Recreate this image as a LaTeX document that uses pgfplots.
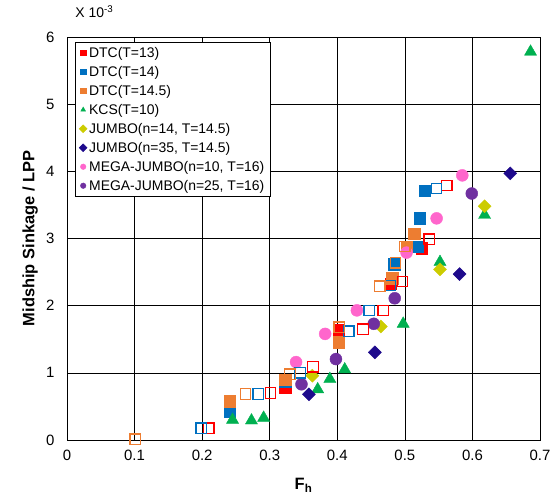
\documentclass[border=0pt]{standalone}
\usepackage{fontspec}
\setmainfont{Liberation Sans}
\usepackage{pgfplots}
\pgfplotsset{compat=1.18}
\definecolor{cRed}{RGB}{255,0,0}
\definecolor{cBlue}{RGB}{0,112,192}
\definecolor{cOrange}{RGB}{237,125,49}
\definecolor{cGreen}{RGB}{0,176,80}
\definecolor{cYellow}{RGB}{204,204,0}
\definecolor{cNavy}{RGB}{30,10,140}
\definecolor{cPink}{RGB}{255,102,204}
\definecolor{cPurple}{RGB}{112,48,160}
\begin{document}
\begin{tikzpicture}
\begin{axis}[
  width=473bp, height=403bp, scale only axis,
  xmin=0, xmax=0.7, ymin=0, ymax=6,
  xtick={0,0.1,0.2,0.3,0.4,0.5,0.6,0.7},
  xticklabels={0,0.1,0.2,0.3,0.4,0.5,0.6,0.7},
  ytick={0,1,2,3,4,5,6},
  yticklabels={0,1,2,3,4,5,6},
  grid=major,
  major grid style={black, line width=0.6bp},
  axis line style={black, line width=0.9bp},
  major tick length=0pt,
  /pgf/number format/assume math mode=true,
  tick label style={font=\fontsize{15}{18}\selectfont},
  xticklabel style={yshift=-7bp},
  yticklabel style={xshift=-9bp},
  xlabel={\textbf{F\textsubscript{h}}},
  ylabel={\textbf{Midship Sinkage / LPP}},
  every axis x label/.style={at={(axis description cs:0.5,-0.112)}, anchor=center, font=\fontsize{16.5}{19}\selectfont},
  every axis y label/.style={at={(axis description cs:-0.078,0.5)}, anchor=center, rotate=90, font=\fontsize{16.5}{19}\selectfont},
  clip=false,
  legend style={at={(axis description cs:0.017,0.988)}, anchor=north west,
    draw=black, fill=white, font=\fontsize{14}{16}\selectfont,
    cells={anchor=west}, row sep=3.4bp, inner xsep=4bp, inner ysep=3bp},
  legend image code/.code={\draw[#1, mark size=2.8bp] plot coordinates {(0.12cm,0cm)};},
  sq/.style={only marks, mark=square*, mark size=5.8bp},
  osq/.style={only marks, mark=square, mark size=5.2bp, line width=1.3bp, forget plot},
]
\addplot[sq, color=cRed] coordinates {(0.3225,0.78) (0.402,1.64) (0.479,2.33) (0.525,2.86)};
\addlegendentry{DTC(T=13)}
\addplot[sq, color=cBlue] coordinates {(0.241,0.42) (0.3225,0.875) (0.484,2.62) (0.518,2.88) (0.522,3.30) (0.5296,3.71)};
\addlegendentry{DTC(T=14)}
\addplot[sq, color=cOrange] coordinates {(0.241,0.58) (0.3225,0.90) (0.402,1.46) (0.481,2.41) (0.5025,2.88) (0.514,3.07)};
\addlegendentry{DTC(T=14.5)}
\addplot[only marks, mark=triangle*, mark size=7bp, color=cGreen] coordinates {(0.245,0.30) (0.273,0.29) (0.291,0.33) (0.371,0.754) (0.389,0.908) (0.411,1.05) (0.4975,1.73) (0.552,2.65) (0.618,3.35) (0.686,5.78)};
\addlegendentry{KCS(T=10)}
\addplot[only marks, mark=square*, mark size=4.6bp, mark options={rotate=45}, color=cYellow] coordinates {(0.363,0.957) (0.4645,1.69) (0.552,2.54) (0.618,3.48)};
\addlegendentry{JUMBO(n=14, T=14.5)}
\addplot[only marks, mark=square*, mark size=4.6bp, mark options={rotate=45}, color=cNavy] coordinates {(0.358,0.68) (0.4556,1.305) (0.581,2.47) (0.656,3.97)};
\addlegendentry{JUMBO(n=35, T=14.5)}
\addplot[only marks, mark=*, mark size=6bp, color=cPink] coordinates {(0.339,1.16) (0.382,1.58) (0.429,1.93) (0.5025,2.79) (0.547,3.30) (0.585,3.94)};
\addlegendentry{MEGA-JUMBO(n=10, T=16)}
\addplot[only marks, mark=*, mark size=6bp, color=cPurple] coordinates {(0.347,0.83) (0.398,1.205) (0.454,1.73) (0.485,2.11) (0.599,3.67)};
\addlegendentry{MEGA-JUMBO(n=25, T=16)}
\addplot[osq, color=cRed] coordinates {(0.210,0.174) (0.301,0.70) (0.364,1.09) (0.438,1.65) (0.468,1.93) (0.4966,2.36) (0.536,2.99) (0.562,3.79)};
\addplot[osq, color=cBlue] coordinates {(0.1987,0.174) (0.283,0.685) (0.345,1.0) (0.417,1.62) (0.447,1.93) (0.478,2.30) (0.547,3.745)};
\addplot[osq, color=cOrange] coordinates {(0.101,0.01) (0.264,0.685) (0.33,0.98) (0.403,1.68) (0.463,2.29) (0.486,2.64) (0.50,2.88)};
\node[font=\fontsize{14}{16}\selectfont] at (axis description cs:0.058,1.062) {X 10\textsuperscript{-3}};
\end{axis}
\path (current axis.south west) ++(-67bp,-57bp);
\path (current axis.north east) ++(20bp,37bp);
\end{tikzpicture}
\end{document}
